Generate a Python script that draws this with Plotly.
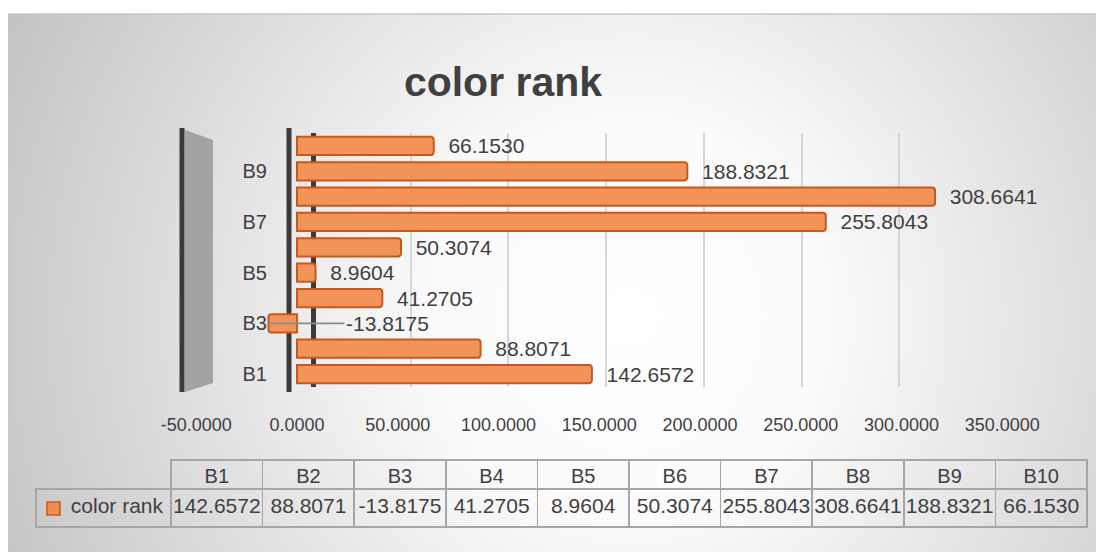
import base64
import plotly.graph_objects as go

# ---------------- data ----------------
CATEGORIES = ["B1", "B2", "B3", "B4", "B5", "B6", "B7", "B8", "B9", "B10"]
VALUES = [142.6572, 88.8071, -13.8175, 41.2705, 8.9604, 50.3074, 255.8043, 308.6641, 188.8321, 66.1530]
SERIES_NAME = "color rank"
TITLE = "color rank"
X_TICKS = [-50, 0, 50, 100, 150, 200, 250, 300, 350]

# the page body has an 8px margin: design coordinates (window pixels) are shifted by 8
OFF = 8
W, H = 1104, 552
FONT = "Liberation Sans"
TXT = "#404040"
BAR_FILL = "#F2935A"
BAR_LINE = "#C9581B"


def px(x):
    return (x - OFF) / W


def py(y):
    return 1 - (y - OFF) / H


# ---------------- background gradient (chart area) ----------------
svg = """<svg xmlns='http://www.w3.org/2000/svg' width='1096' height='538' viewBox='0 0 1096 538'>
<defs><radialGradient id='g' gradientUnits='userSpaceOnUse' cx='620' cy='300' r='700'>
<stop offset='0' stop-color='#ffffff'/><stop offset='0.28' stop-color='#fbfbfb'/>
<stop offset='1' stop-color='#c2c2c2'/></radialGradient></defs>
<rect x='0' y='0' width='1096' height='538' fill='url(#g)'/></svg>"""
bg_src = "data:image/svg+xml;base64," + base64.b64encode(svg.encode()).decode()

fig = go.Figure()

# invisible carriers so the back-wall grid axis (x) and tick-label axis (x2) are drawn
for ax in ("x", "x2"):
    fig.add_trace(go.Scatter(x=VALUES, y=CATEGORIES, xaxis=ax, yaxis="y", mode="none",
                             showlegend=False, hoverinfo="skip"))

# bars (on xaxis3 which carries the bar scale)
fig.add_trace(go.Bar(
    x=VALUES,
    y=CATEGORIES,
    orientation="h",
    xaxis="x3",
    yaxis="y",
    width=0.72,
    marker=dict(color=BAR_FILL, line=dict(color=BAR_LINE, width=2), cornerradius=3),
    texttemplate="\u00a0\u00a0%{x:.4f}",
    textposition=["outside" if v >= 0 else "none" for v in VALUES],
    outsidetextfont=dict(family=FONT, size=21, color=TXT),
    constraintext="none",
    cliponaxis=False,
    showlegend=False,
    hoverinfo="skip",
))

# data table below the chart
header_vals = [""] + CATEGORIES
cell_vals = [[SERIES_NAME]] + [[f"{v:.4f}"] for v in VALUES]
line_cols = ["rgba(0,0,0,0)"] + ["#a6a6a6"] * len(CATEGORIES)
fig.add_trace(go.Table(
    domain=dict(x=[px(36), px(1087)], y=[py(528), py(460)]),
    columnwidth=[135] + [91.6] * len(CATEGORIES),
    header=dict(
        values=header_vals,
        fill=dict(color="rgba(0,0,0,0)"),
        line=dict(color=line_cols, width=1.5),
        font=dict(family=FONT, size=20, color=TXT),
        align="center",
        height=29,
    ),
    cells=dict(
        values=cell_vals,
        fill=dict(color="rgba(0,0,0,0)"),
        line=dict(color="#a6a6a6", width=1.5),
        font=dict(family=FONT, size=21, color=TXT),
        align=["right"] + ["center"] * len(CATEGORIES),
        height=38,
    ),
))

annotations = []
for c, v in zip(CATEGORIES, VALUES):
    if v < 0:
        annotations.append(dict(
            x=v, y=c, xref="x3", yref="y", text=f"{v:.4f}",
            showarrow=True, arrowhead=0, arrowwidth=1.6, arrowcolor="#8c8c8c",
            ax=76, ay=0, xanchor="left",
            font=dict(family=FONT, size=21, color=TXT),
        ))

shapes = [
    # chart area border
    dict(type="rect", xref="paper", yref="paper", x0=px(8), x1=px(1120), y0=py(570), y1=py(14),
         line=dict(color="#c8c8c8", width=1.5), fillcolor="rgba(0,0,0,0)", layer="below"),
    # side wall (grey parallelogram)
    dict(type="path", xref="paper", yref="paper",
         path=f"M {px(185)} {py(130)} L {px(213)} {py(140)} L {px(213)} {py(383)} L {px(185)} {py(392)} Z",
         fillcolor="#a3a3a3", line=dict(width=0), layer="below"),
    # left wall edge
    dict(type="line", xref="paper", yref="paper", x0=px(182), x1=px(182), y0=py(128), y1=py(392),
         line=dict(color="#3a3a3a", width=5), layer="below"),
    # front axis edge
    dict(type="line", xref="paper", yref="paper", x0=px(289), x1=px(289), y0=py(128), y1=py(392),
         line=dict(color="#3a3a3a", width=5), layer="below"),
    # legend key in the data table
    dict(type="rect", xref="paper", yref="paper", x0=px(47), x1=px(60), y0=py(515), y1=py(502),
         fillcolor="#F08C50", line=dict(color="#C9581B", width=1.5)),
]

fig.update_layout(
    width=W, height=H,
    margin=dict(l=0, r=0, t=0, b=0, pad=0, autoexpand=False),
    paper_bgcolor="white",
    plot_bgcolor="rgba(0,0,0,0)",
    font=dict(family=FONT, color=TXT),
    title=dict(text=f"<b>{TITLE}</b>", x=px(503), y=py(82), xanchor="center", yanchor="middle",
               font=dict(family=FONT, size=41, color=TXT)),
    showlegend=False,
    # back-wall grid scale
    xaxis=dict(domain=[px(293.46), px(997)], range=[-10, 350], anchor="y", automargin=False,
               tick0=0, dtick=50, showgrid=True, gridcolor="#d6d6d6", gridwidth=1.5,
               zeroline=True, zerolinecolor="#3a3a3a", zerolinewidth=5,
               showticklabels=False, ticks="", showline=False, fixedrange=True),
    # tick-label scale
    xaxis2=dict(domain=[px(196.25), px(1002.3)], range=[-50, 350], anchor="free", position=py(412),
                automargin=False,
                tickvals=X_TICKS, ticktext=[f"{v:.4f}" for v in X_TICKS],
                showgrid=False, zeroline=False, showline=False,
                ticks="", tickfont=dict(family=FONT, size=18, color=TXT), fixedrange=True),
    # bar scale
    xaxis3=dict(domain=[px(193.65), px(1020.5)], range=[-50, 350], anchor="y", automargin=False,
                showgrid=False, zeroline=False, showline=False, showticklabels=False, ticks="",
                fixedrange=True),
    yaxis=dict(domain=[py(386.7), py(133.3)], type="category", categoryorder="array",
               categoryarray=CATEGORIES, range=[-0.5, 9.5], anchor="free", position=px(267),
               automargin=False,
               tickvals=CATEGORIES[::2], showgrid=False, zeroline=False, showline=False, ticks="",
               tickfont=dict(family=FONT, size=20, color=TXT), fixedrange=True),
    images=[dict(source=bg_src, xref="paper", yref="paper", x=px(8), y=py(14),
                 sizex=1100 / W, sizey=546 / H, sizing="stretch", layer="below",
                 xanchor="left", yanchor="top")],
    shapes=shapes,
    annotations=annotations,
)

fig.write_html("out.html")
